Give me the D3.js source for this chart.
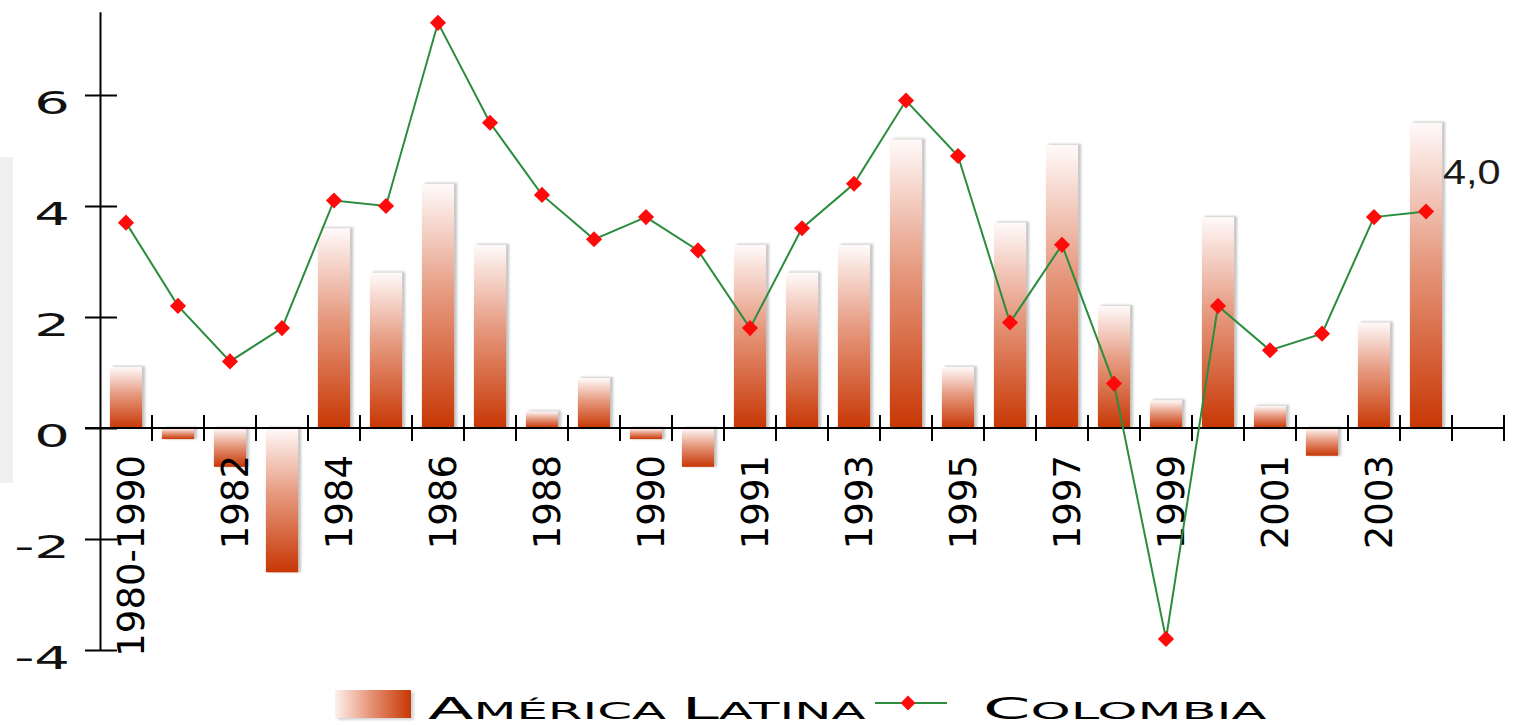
<!DOCTYPE html>
<html><head><meta charset="utf-8">
<script src="https://cdn.jsdelivr.net/npm/d3@7"></script>
<style>body{margin:0;background:#fff;overflow:hidden} svg{display:block}</style>
</head><body>
<svg id="chart" width="1521" height="727"></svg>
<script>
// ---- data ----
const categories = ["1980-1990","1981","1982","1983","1984","1985","1986","1987","1988","1989","1990",
  "1991-2004","1991","1992","1993","1994","1995","1996","1997","1998","1999","2000","2001","2002","2003","2004",""];
const americaLatina = [1.1,-0.2,-0.7,-2.6,3.6,2.8,4.4,3.3,0.3,0.9,-0.2,-0.7,3.3,2.8,3.3,5.2,1.1,3.7,5.1,2.2,0.5,3.8,0.4,-0.5,1.9,5.5,null];
const colombia = [3.7,2.2,1.2,1.8,4.1,4.0,7.3,5.5,4.2,3.4,3.8,3.2,1.8,3.6,4.4,5.9,4.9,1.9,3.3,0.8,-3.8,2.2,1.4,1.7,3.8,3.9,null];
const yTickValues = [-4,-2,0,2,4,6];
const yTickLabels = ["-4","-2","0","2","4","6"];
const shownXLabels = ["1980-1990","1982","1984","1986","1988","1990","1991","1993","1995","1997","1999","2001","2003"];
const legendNames = [["A","MÉRICA"," ","L","ATINA"],["C","OLOMBIA"]];
const annotationText = "4,0";
const annotationIndex = 25;

// ---- setup ----
const svg = d3.select("#chart");
const defs = svg.append("defs");
const g1 = defs.append("linearGradient").attr("id","barGrad").attr("x1",0).attr("y1",0).attr("x2",0).attr("y2",1);
g1.append("stop").attr("offset","0%").attr("stop-color","#fffafa");
g1.append("stop").attr("offset","45%").attr("stop-color","#e69a80");
g1.append("stop").attr("offset","100%").attr("stop-color","#c83704");
const g2 = defs.append("linearGradient").attr("id","legGrad").attr("x1",0).attr("y1",0).attr("x2",1).attr("y2",0);
g2.append("stop").attr("offset","0%").attr("stop-color","#fdf1ec");
g2.append("stop").attr("offset","50%").attr("stop-color","#e48d70");
g2.append("stop").attr("offset","100%").attr("stop-color","#c83704");
const blur = defs.append("filter").attr("id","sh").attr("x","-20%").attr("y","-20%").attr("width","140%").attr("height","140%");
blur.append("feGaussianBlur").attr("stdDeviation",1.2);

// light panel at far left
svg.append("rect").attr("x",0).attr("y",157).attr("width",13).attr("height",326).attr("fill","#f0f0f2");

const x = d3.scaleBand().domain(categories).range([100,1504]).paddingInner(0.38).paddingOuter(0.19);
const y = d3.scaleLinear().domain([-4,7.5]).range([650,11.75]);
const cx = c => x(c) + x.bandwidth()/2;

// bars
const barData = categories.map((c,i)=>({c, v: americaLatina[i]})).filter(d=>d.v!=null);
svg.append("g").selectAll("rect").data(barData).join("rect")
  .attr("x", d=>x(d.c)+3).attr("y", d=>Math.min(y(d.v),y(0))-1)
  .attr("width", x.bandwidth()).attr("height", d=>Math.abs(y(d.v)-y(0))+1)
  .attr("fill","#9a9a9a").attr("opacity",0.55).attr("filter","url(#sh)");
svg.append("g").selectAll("rect").data(barData).join("rect")
  .attr("x", d=>x(d.c)).attr("y", d=>Math.min(y(d.v),y(0)))
  .attr("width", x.bandwidth()).attr("height", d=>Math.abs(y(d.v)-y(0)))
  .attr("fill","url(#barGrad)");

// y axis
const yAxis = d3.axisLeft(y).tickValues(yTickValues).tickFormat(()=>"").tickSizeOuter(0);
const ya = svg.append("g").attr("transform","translate(100,0)").call(yAxis);
ya.select(".domain").attr("stroke","#000").attr("stroke-width",2);
ya.selectAll(".tick line").attr("x1",17).attr("x2",-15).attr("stroke","#000").attr("stroke-width",2);
svg.append("g").selectAll("text").data(yTickValues).join("text")
  .attr("transform", d=>`translate(70,${y(d)+19}) scale(1.75,1)`)
  .attr("text-anchor","end").attr("font-family","DejaVu Sans").attr("font-size",32).attr("fill","#111")
  .text((d,i)=>yTickLabels[i]);

// x axis
const y0 = y(0);
svg.append("line").attr("x1",85).attr("x2",x.range()[1]).attr("y1",y0).attr("y2",y0).attr("stroke","#000").attr("stroke-width",2);
svg.append("g").selectAll("line").data(categories).join("line")
  .attr("x1", c=>cx(c)+x.step()/2).attr("x2", c=>cx(c)+x.step()/2)
  .attr("y1", y0-13).attr("y2", y0+13).attr("stroke","#000").attr("stroke-width",2);
svg.append("g").selectAll("text").data(shownXLabels).join("text")
  .attr("transform", c=>`translate(${cx(c)+18},455) rotate(-90)`)
  .attr("text-anchor","end").attr("font-family","DejaVu Sans").attr("font-size",37).attr("fill","#000")
  .text(c=>c);

// line
const lineData = categories.map((c,i)=>({c, v: colombia[i]})).filter(d=>d.v!=null);
svg.append("path").datum(lineData)
  .attr("d", d3.line().x(d=>cx(d.c)).y(d=>y(d.v)))
  .attr("fill","none").attr("stroke","#2a8c3c").attr("stroke-width",2);
const diamond = d3.symbol().type(d3.symbolSquare).size(130);
svg.append("g").selectAll("path").data(lineData).join("path")
  .attr("d", diamond).attr("transform", d=>`translate(${cx(d.c)},${y(d.v)}) rotate(45)`)
  .attr("fill","#ff0a0a");

// annotation
const ac = categories[annotationIndex];
svg.append("text").attr("transform",`translate(${cx(ac)+17},${y(colombia[annotationIndex])-28}) scale(1.15,1)`)
  .attr("font-family","Liberation Sans").attr("font-size",36).attr("fill","#1a1a1a").text(annotationText);

// legend
svg.append("rect").attr("x",338).attr("y",692).attr("width",76).attr("height",28).attr("fill","#999").attr("opacity",0.4).attr("filter","url(#sh)");
svg.append("rect").attr("x",335).attr("y",690).attr("width",76).attr("height",28).attr("fill","url(#legGrad)");
svg.append("line").attr("x1",875).attr("x2",947).attr("y1",703).attr("y2",703).attr("stroke","#2a8c3c").attr("stroke-width",2);
svg.append("path").attr("d", d3.symbol().type(d3.symbolSquare).size(110)).attr("transform","translate(908,703) rotate(45)").attr("fill","#ff0a0a");

function legendText(parts, x0, x1) {
  const t = svg.append("text").attr("font-family","DejaVu Sans").attr("fill","#000");
  parts.forEach((p,i)=>{
    const big = (p.length===1 && p!==" ");
    t.append("tspan").attr("font-size", big?30:22.5).text(p);
  });
  const w = t.node().getBBox().width;
  t.attr("transform", `translate(${x0},719) scale(${(x1-x0)/w},1)`);
}
legendText(legendNames[0], 428, 867);
legendText(legendNames[1], 983, 1268);
</script>
</body></html>
